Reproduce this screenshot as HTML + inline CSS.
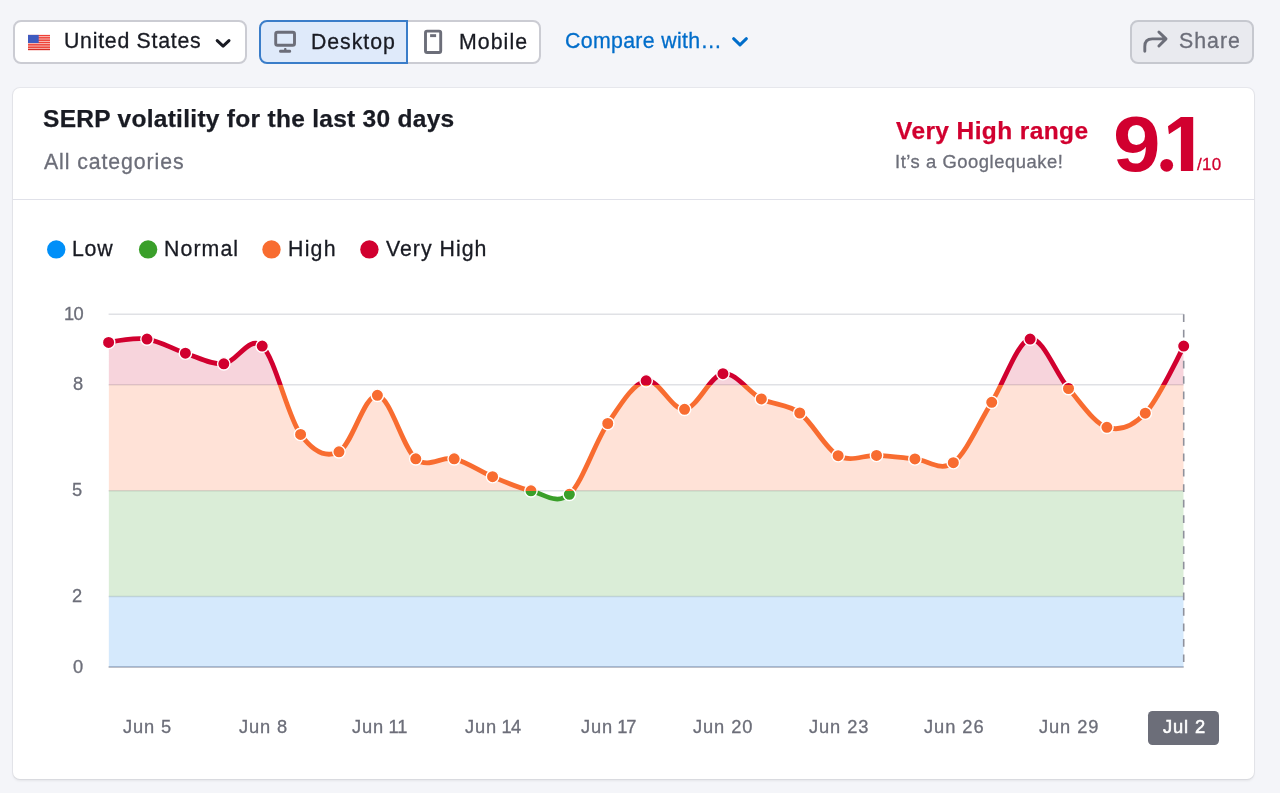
<!DOCTYPE html>
<html lang="en">
<head>
<meta charset="utf-8">
<title>SERP volatility for the last 30 days</title>
<style>
  html, body { margin: 0; padding: 0; }
  body {
    width: 1280px; height: 793px; overflow: hidden; position: relative;
    background: #f4f5f9;
    font-family: "Liberation Sans", sans-serif;
  }
  .abs { position: absolute; box-sizing: border-box; }
  .t { position: absolute; white-space: nowrap; font-family: "Liberation Sans", sans-serif; will-change: transform; }
  .btn { position: absolute; box-sizing: border-box; top: 20px; height: 43.5px; border: 2px solid #cbccd3; background: #fff; border-radius: 8px; }
  #b_country { left: 12.6px; width: 234px; }
  #b_desktop { left: 259px; width: 149.3px; border-radius: 8px 0 0 8px; background: #dfeafa; border-color: #3a7dc9; }
  #b_mobile  { left: 406.3px; width: 134.4px; border-radius: 0 8px 8px 0; }
  #b_share   { left: 1129.6px; width: 124.2px; background: #e9eaef; border-color: #c6c8cf; }
  #card { left: 12.6px; top: 88.3px; width: 1241px; height: 690.3px; background: #fff; border-radius: 7px; box-shadow: 0 0 0 1px rgba(25,27,35,0.055), 0 1.5px 2.5px rgba(25,27,35,0.07); }
  #divider { left: 12.6px; top: 198.5px; width: 1241px; height: 1.5px; background: #e0e1e9; }
  #pill { left: 1148.1px; top: 711.1px; width: 71.1px; height: 33.7px; background: #6c6e79; border-radius: 4.5px; }
  svg { position: absolute; left: 0; top: 0; overflow: visible; }
</style>
</head>
<body>

<!-- toolbar -->
<div class="btn" id="b_country"></div>
<div class="btn" id="b_mobile"></div>
<div class="btn" id="b_desktop"></div>
<div class="btn" id="b_share"></div>

<!-- card -->
<div class="abs" id="card"></div>
<div class="abs" id="divider"></div>

<svg id="chart" width="1280" height="793" viewBox="0 0 1280 793">
  <defs>
    <linearGradient id="lg" gradientUnits="userSpaceOnUse" x1="0" y1="314.30" x2="0" y2="667.00">
      <stop offset="0" stop-color="#d1002f"/>
      <stop offset="0.2000" stop-color="#d1002f"/>
      <stop offset="0.2000" stop-color="#f86c30"/>
      <stop offset="0.5000" stop-color="#f86c30"/>
      <stop offset="0.5000" stop-color="#3a9f2a"/>
      <stop offset="0.8000" stop-color="#3a9f2a"/>
      <stop offset="0.8000" stop-color="#008ff8"/>
      <stop offset="1" stop-color="#008ff8"/>
    </linearGradient>
    <clipPath id="areaclip"><path d="M108.60,342.40C108.60,342.40 134.20,337.30 147.00,339.10C159.80,340.90 172.59,349.08 185.39,353.20C198.19,357.32 210.99,364.98 223.79,363.80C236.59,362.62 249.39,334.33 262.19,346.10C274.98,357.87 287.78,416.78 300.58,434.40C313.38,452.02 326.18,458.32 338.98,451.80C351.78,445.28 364.58,394.13 377.38,395.30C390.17,396.47 402.97,448.22 415.77,458.80C428.57,469.38 441.37,455.82 454.17,458.80C466.97,461.78 479.77,471.37 492.56,476.70C505.36,482.03 518.16,487.87 530.96,490.80C543.76,493.73 556.56,505.52 569.36,494.30C582.16,483.08 594.95,442.42 607.75,423.50C620.55,404.58 633.35,383.17 646.15,380.80C658.95,378.43 671.75,410.48 684.55,409.30C697.35,408.12 710.14,375.43 722.94,373.70C735.74,371.97 748.54,392.35 761.34,398.90C774.14,405.45 786.94,403.53 799.74,413.00C812.53,422.47 825.33,448.63 838.13,455.70C850.93,462.77 863.73,454.87 876.53,455.40C889.33,455.93 902.13,457.68 914.93,458.90C927.72,460.12 940.52,472.13 953.32,462.70C966.12,453.27 978.92,422.90 991.72,402.30C1004.52,381.70 1017.32,341.40 1030.11,339.10C1042.91,336.80 1055.71,373.80 1068.51,388.50C1081.31,403.20 1094.11,423.18 1106.91,427.30C1119.71,431.42 1132.50,426.73 1145.30,413.20C1158.10,399.67 1183.70,346.10 1183.70,346.10L1183.70,667.00 L108.60,667.00 Z"/></clipPath>
  </defs>

  <!-- grid -->
  <g stroke="#e0e1e5" stroke-width="1.5">
    <line x1="108.60" x2="1183.70" y1="314.30" y2="314.30"/>
    <line x1="108.60" x2="1183.70" y1="384.84" y2="384.84"/>
    <line x1="108.60" x2="1183.70" y1="490.65" y2="490.65"/>
    <line x1="108.60" x2="1183.70" y1="596.46" y2="596.46"/>
  </g>
  <line x1="108.60" x2="1183.70" y1="667.00" y2="667.00" stroke="#a9abb6" stroke-width="1.5"/>

  <!-- banded area under the curve -->
  <g clip-path="url(#areaclip)">
    <rect x="108.60" y="314.30" width="1075.10" height="70.54" fill="#d1002f" fill-opacity="0.17"/>
    <rect x="108.60" y="384.84"  width="1075.10" height="105.81"  fill="#ff642d" fill-opacity="0.19"/>
    <rect x="108.60" y="490.65"  width="1075.10" height="105.81"  fill="#3a9f2a" fill-opacity="0.19"/>
    <rect x="108.60" y="596.46"  width="1075.10" height="70.54"  fill="#2b90f0" fill-opacity="0.2"/>
  </g>

  <!-- hover line -->
  <line x1="1183.70" x2="1183.70" y1="314.30" y2="667.00" stroke="#8f919c" stroke-width="1.6" stroke-dasharray="7.7 7.76"/>

  <!-- line -->
  <path d="M108.60,342.40C108.60,342.40 134.20,337.30 147.00,339.10C159.80,340.90 172.59,349.08 185.39,353.20C198.19,357.32 210.99,364.98 223.79,363.80C236.59,362.62 249.39,334.33 262.19,346.10C274.98,357.87 287.78,416.78 300.58,434.40C313.38,452.02 326.18,458.32 338.98,451.80C351.78,445.28 364.58,394.13 377.38,395.30C390.17,396.47 402.97,448.22 415.77,458.80C428.57,469.38 441.37,455.82 454.17,458.80C466.97,461.78 479.77,471.37 492.56,476.70C505.36,482.03 518.16,487.87 530.96,490.80C543.76,493.73 556.56,505.52 569.36,494.30C582.16,483.08 594.95,442.42 607.75,423.50C620.55,404.58 633.35,383.17 646.15,380.80C658.95,378.43 671.75,410.48 684.55,409.30C697.35,408.12 710.14,375.43 722.94,373.70C735.74,371.97 748.54,392.35 761.34,398.90C774.14,405.45 786.94,403.53 799.74,413.00C812.53,422.47 825.33,448.63 838.13,455.70C850.93,462.77 863.73,454.87 876.53,455.40C889.33,455.93 902.13,457.68 914.93,458.90C927.72,460.12 940.52,472.13 953.32,462.70C966.12,453.27 978.92,422.90 991.72,402.30C1004.52,381.70 1017.32,341.40 1030.11,339.10C1042.91,336.80 1055.71,373.80 1068.51,388.50C1081.31,403.20 1094.11,423.18 1106.91,427.30C1119.71,431.42 1132.50,426.73 1145.30,413.20C1158.10,399.67 1183.70,346.10 1183.70,346.10" fill="none" stroke="url(#lg)" stroke-width="4.8" stroke-linecap="round" stroke-linejoin="round"/>
  <g fill="url(#lg)" stroke="#fff" stroke-width="1.4">
<circle cx="108.60" cy="342.40" r="6.2"/>
<circle cx="147.00" cy="339.10" r="6.2"/>
<circle cx="185.39" cy="353.20" r="6.2"/>
<circle cx="223.79" cy="363.80" r="6.2"/>
<circle cx="262.19" cy="346.10" r="6.2"/>
<circle cx="300.58" cy="434.40" r="6.2"/>
<circle cx="338.98" cy="451.80" r="6.2"/>
<circle cx="377.38" cy="395.30" r="6.2"/>
<circle cx="415.77" cy="458.80" r="6.2"/>
<circle cx="454.17" cy="458.80" r="6.2"/>
<circle cx="492.56" cy="476.70" r="6.2"/>
<circle cx="530.96" cy="490.80" r="6.2"/>
<circle cx="569.36" cy="494.30" r="6.2"/>
<circle cx="607.75" cy="423.50" r="6.2"/>
<circle cx="646.15" cy="380.80" r="6.2"/>
<circle cx="684.55" cy="409.30" r="6.2"/>
<circle cx="722.94" cy="373.70" r="6.2"/>
<circle cx="761.34" cy="398.90" r="6.2"/>
<circle cx="799.74" cy="413.00" r="6.2"/>
<circle cx="838.13" cy="455.70" r="6.2"/>
<circle cx="876.53" cy="455.40" r="6.2"/>
<circle cx="914.93" cy="458.90" r="6.2"/>
<circle cx="953.32" cy="462.70" r="6.2"/>
<circle cx="991.72" cy="402.30" r="6.2"/>
<circle cx="1030.11" cy="339.10" r="6.2"/>
<circle cx="1068.51" cy="388.50" r="6.2"/>
<circle cx="1106.91" cy="427.30" r="6.2"/>
<circle cx="1145.30" cy="413.20" r="6.2"/>
<circle cx="1183.70" cy="346.10" r="6.2"/>
  </g>

  <!-- legend dots -->
  <circle cx="56.25" cy="249.4" r="9.2" fill="#008ff8"/>
  <circle cx="148.1" cy="249.4" r="9.2" fill="#3a9f2a"/>
  <circle cx="271.5" cy="249.4" r="9.2" fill="#f86c30"/>
  <circle cx="369.4" cy="249.4" r="9.2" fill="#d1002f"/>

  <!-- flag -->
  <g id="flag">
    <rect x="28" y="34.9" width="22" height="15.2" fill="#ee4137"/>
    <g fill="#fbdcd8"><rect x="28" y="36.27" width="22" height="0.8"/><rect x="28" y="38.61" width="22" height="0.8"/><rect x="28" y="40.95" width="22" height="0.8"/><rect x="28" y="43.28" width="22" height="0.8"/><rect x="28" y="45.62" width="22" height="0.8"/><rect x="28" y="47.96" width="22" height="0.8"/></g>
    <rect x="28" y="48.9" width="22" height="1.2" fill="#d22d25"/>
    <rect x="28" y="34.9" width="10.7" height="8.1" fill="#3f5bbf"/>
  </g>

  <!-- chevrons -->
  <path d="M217.2,40.6 L223.1,46.2 L229,40.6" fill="none" stroke="#191b23" stroke-width="3" stroke-linecap="round" stroke-linejoin="round"/>
  <path d="M733.6,38.7 L740,44.9 L746.4,38.7" fill="none" stroke="#006dca" stroke-width="3" stroke-linecap="round" stroke-linejoin="round"/>

  <!-- desktop icon -->
  <g id="ic_desktop">
    <rect x="275.7" y="32.3" width="18.8" height="12.9" rx="1.8" fill="none" stroke="#6c6e79" stroke-width="2.9"/>
    <path d="M284,49.9 L284.4,47.9 H286.2 L286.6,49.9 Z" fill="#6c6e79"/>
    <rect x="279.1" y="49.7" width="12" height="3" rx="1.3" fill="#6c6e79"/>
  </g>

  <!-- mobile icon -->
  <g id="ic_mobile">
    <rect x="425.5" y="31.1" width="15.2" height="21.4" rx="1.6" fill="none" stroke="#6c6e79" stroke-width="2.9"/>
    <rect x="430.1" y="34.2" width="6" height="2.9" fill="#6c6e79"/>
  </g>

  <!-- share icon -->
  <path d="M1144.8,51.3 V46.4 Q1144.8,38.9 1152.3,38.9 H1165.6 M1158.9,32 L1166,38.9 L1158.9,46"
        fill="none" stroke="#6c6e79" stroke-width="2.9" stroke-linecap="round" stroke-linejoin="round"/>

  <!-- big "9.1": 9 as text, dot and 1 as shapes -->
  <g fill="#d1002f">
    <text id="nine" x="0" y="0" transform="translate(1113.0,170.5) scale(1.105,1)" font-family="Liberation Sans, sans-serif" font-weight="700" font-size="77.4">9</text>
    <circle cx="1166.7" cy="165.3" r="6.4"/>
    <path d="M1180.9,116.9 H1193.2 V170.9 H1180.9 V126.6 L1168.9,134.3 L1168,126.3 Z"/>
  </g>
</svg>

<div class="abs" id="pill"></div>

<span class="t" id="t_us" style="left:64.40px;top:30.67px;font-size:21.30px;line-height:21.30px;color:#191b23;letter-spacing:0.733px;-webkit-text-stroke:0.3px #191b23;">United States</span>
<span class="t" id="t_desk" style="left:311.00px;top:31.57px;font-size:21.30px;line-height:21.30px;color:#191b23;letter-spacing:0.950px;-webkit-text-stroke:0.3px #191b23;">Desktop</span>
<span class="t" id="t_mob" style="left:459.10px;top:31.57px;font-size:21.30px;line-height:21.30px;color:#191b23;letter-spacing:1.060px;-webkit-text-stroke:0.3px #191b23;">Mobile</span>
<span class="t" id="t_cmp" style="left:565.00px;top:30.97px;font-size:21.30px;line-height:21.30px;color:#006dca;letter-spacing:0.333px;-webkit-text-stroke:0.3px #006dca;">Compare with…</span>
<span class="t" id="t_share" style="left:1179.40px;top:31.37px;font-size:21.30px;line-height:21.30px;color:#6c6e79;letter-spacing:1.000px;-webkit-text-stroke:0.3px #6c6e79;">Share</span>
<span class="t" id="t_title" style="left:43.40px;top:107.06px;font-size:24.50px;line-height:24.50px;color:#191b23;letter-spacing:0.286px;font-weight:700;-webkit-text-stroke:0.25px #191b23;">SERP volatility for the last 30 days</span>
<span class="t" id="t_allcat" style="left:44.20px;top:151.72px;font-size:21.30px;line-height:21.30px;color:#6c6e79;letter-spacing:0.908px;-webkit-text-stroke:0.3px #6c6e79;">All categories</span>
<span class="t" id="t_vhr" style="left:896.20px;top:118.96px;font-size:24.50px;line-height:24.50px;color:#d1002f;letter-spacing:0.393px;font-weight:700;-webkit-text-stroke:0.25px #d1002f;">Very High range</span>
<span class="t" id="t_gq" style="left:895.00px;top:153.12px;font-size:18.40px;line-height:18.40px;color:#6c6e79;letter-spacing:0.544px;-webkit-text-stroke:0.3px #6c6e79;">It’s a Googlequake!</span>
<span class="t" id="t_of10" style="left:1197.10px;top:155.71px;font-size:17.00px;line-height:17.00px;color:#d1002f;letter-spacing:0.300px;-webkit-text-stroke:0.3px #d1002f;">/10</span>
<span class="t" id="t_l_low" style="left:72.10px;top:238.97px;font-size:21.30px;line-height:21.30px;color:#191b23;letter-spacing:0.750px;-webkit-text-stroke:0.3px #191b23;">Low</span>
<span class="t" id="t_l_norm" style="left:164.00px;top:238.97px;font-size:21.30px;line-height:21.30px;color:#191b23;letter-spacing:1.080px;-webkit-text-stroke:0.3px #191b23;">Normal</span>
<span class="t" id="t_l_high" style="left:287.50px;top:238.97px;font-size:21.30px;line-height:21.30px;color:#191b23;letter-spacing:1.250px;-webkit-text-stroke:0.3px #191b23;">High</span>
<span class="t" id="t_l_vh" style="left:385.50px;top:238.97px;font-size:21.30px;line-height:21.30px;color:#191b23;letter-spacing:1.000px;-webkit-text-stroke:0.3px #191b23;">Very High</span>
<span class="t" id="t_y10" style="left:63.80px;top:305.41px;font-size:18.30px;line-height:18.30px;color:#6c6e79;letter-spacing:-0.700px;-webkit-text-stroke:0.3px #6c6e79;">10</span>
<span class="t" id="t_y8" style="left:73.30px;top:374.95px;font-size:18.30px;line-height:18.30px;color:#6c6e79;letter-spacing:0.000px;-webkit-text-stroke:0.3px #6c6e79;">8</span>
<span class="t" id="t_y5" style="left:71.90px;top:480.76px;font-size:18.30px;line-height:18.30px;color:#6c6e79;letter-spacing:0.000px;-webkit-text-stroke:0.3px #6c6e79;">5</span>
<span class="t" id="t_y2" style="left:71.90px;top:586.57px;font-size:18.30px;line-height:18.30px;color:#6c6e79;letter-spacing:0.000px;-webkit-text-stroke:0.3px #6c6e79;">2</span>
<span class="t" id="t_y0" style="left:73.30px;top:658.11px;font-size:18.30px;line-height:18.30px;color:#6c6e79;letter-spacing:0.000px;-webkit-text-stroke:0.3px #6c6e79;">0</span>
<span class="t" id="t_x1" style="left:123.25px;top:717.81px;font-size:18.30px;line-height:18.30px;color:#6c6e79;letter-spacing:0.875px;-webkit-text-stroke:0.3px #6c6e79;">Jun 5</span>
<span class="t" id="t_x4" style="left:238.75px;top:717.81px;font-size:18.30px;line-height:18.30px;color:#6c6e79;letter-spacing:0.875px;-webkit-text-stroke:0.3px #6c6e79;">Jun 8</span>
<span class="t" id="t_x7" style="left:352.00px;top:717.81px;font-size:18.30px;line-height:18.30px;color:#6c6e79;letter-spacing:0.875px;-webkit-text-stroke:0.3px #6c6e79;">Jun<span style="letter-spacing:-0.8px"> </span><span style="letter-spacing:-1.3px">1</span>1</span>
<span class="t" id="t_x10" style="left:464.50px;top:717.81px;font-size:18.30px;line-height:18.30px;color:#6c6e79;letter-spacing:0.875px;-webkit-text-stroke:0.3px #6c6e79;">Jun<span style="letter-spacing:-0.8px"> </span><span style="letter-spacing:-0.6px">1</span>4</span>
<span class="t" id="t_x13" style="left:580.50px;top:717.81px;font-size:18.30px;line-height:18.30px;color:#6c6e79;letter-spacing:0.875px;-webkit-text-stroke:0.3px #6c6e79;">Jun<span style="letter-spacing:-1.0px"> </span><span style="letter-spacing:-1.1px">1</span>7</span>
<span class="t" id="t_x16" style="left:693.00px;top:717.81px;font-size:18.30px;line-height:18.30px;color:#6c6e79;letter-spacing:0.900px;-webkit-text-stroke:0.3px #6c6e79;">Jun 20</span>
<span class="t" id="t_x19" style="left:808.75px;top:717.81px;font-size:18.30px;line-height:18.30px;color:#6c6e79;letter-spacing:0.900px;-webkit-text-stroke:0.3px #6c6e79;">Jun 23</span>
<span class="t" id="t_x22" style="left:924.25px;top:717.81px;font-size:18.30px;line-height:18.30px;color:#6c6e79;letter-spacing:0.950px;-webkit-text-stroke:0.3px #6c6e79;">Jun 26</span>
<span class="t" id="t_x25" style="left:1038.75px;top:717.81px;font-size:18.30px;line-height:18.30px;color:#6c6e79;letter-spacing:0.900px;-webkit-text-stroke:0.3px #6c6e79;">Jun 29</span>
<span class="t" id="t_jul2" style="left:1163.00px;top:717.81px;font-size:18.30px;line-height:18.30px;color:#ffffff;letter-spacing:0.875px;-webkit-text-stroke:0.55px #fff;">Jul 2</span>

</body>
</html>
